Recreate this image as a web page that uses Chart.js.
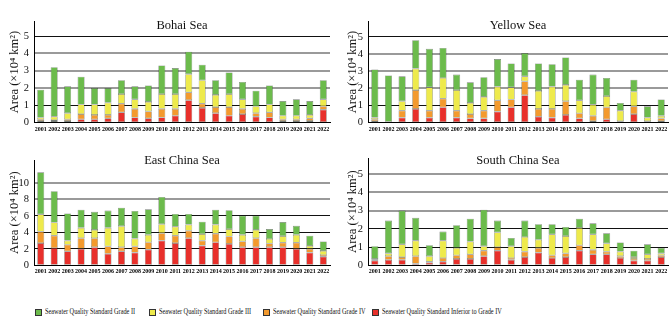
<!DOCTYPE html>
<html>
<head>
<meta charset="utf-8">
<script src="https://cdn.jsdelivr.net/npm/chart.js@4.4.1/dist/chart.umd.min.js"></script>
<style>
  body { margin: 0; background: #fff; width: 672px; height: 324px; position: relative; overflow: hidden; font-family: "Liberation Serif", "Times New Roman", serif; }
  .panel { position: absolute; }
  .leg { position: absolute; top: 308px; height: 8px; white-space: nowrap; }
  .leg i { position: absolute; left: 0; top: 1px; width: 5px; height: 5px; border: 1px solid #333; }
  .leg span { position: absolute; left: 10px; top: -2px; font-size: 8.5px; color: #111; transform: scaleX(0.74); transform-origin: left center; }
</style>
</head>
<body>

<div class="panel" style="left:0;top:10px;width:336px;height:125px"><canvas id="bohai" width="336" height="125"></canvas></div>
<div class="panel" style="left:336px;top:10px;width:336px;height:125px"><canvas id="yellow" width="336" height="125"></canvas></div>
<div class="panel" style="left:0;top:140px;width:336px;height:140px"><canvas id="east" width="336" height="140"></canvas></div>
<div class="panel" style="left:336px;top:140px;width:336px;height:140px"><canvas id="south" width="336" height="140"></canvas></div>
<div id="legend"></div>

<script>
// ===== DATA (area, x10^4 km2, per grade) =====
const years = ["2001","2002","2003","2004","2005","2006","2007","2008","2009","2010","2011",
               "2012","2013","2014","2015","2016","2017","2018","2019","2020","2021","2022"];

const seriesNames = [
    "Seawater Quality Standard Grade II",
    "Seawater Quality Standard Grade III",
    "Seawater Quality Standard Grade IV",
    "Seawater Quality Standard Inferior to Grade IV"
];
const seriesColors = ["#6cbb4c", "#eeea4c", "#f39a2e", "#e8302b"];

// Bohai Sea
const bohaiRed    = [0.1,0.1,0.1,0.2,0.2,0.25,0.6,0.3,0.25,0.3,0.4,1.3,0.85,0.55,0.4,0.5,0.35,0.3,0.1,0.1,0.1,0.75];
const bohaiOrange = [0.1,0.05,0.1,0.3,0.25,0.2,0.5,0.5,0.4,0.5,0.4,0.45,0.25,0.35,0.5,0.3,0.2,0.3,0.1,0.1,0.15,0.2];
const bohaiYellow = [0.1,0.2,0.35,0.55,0.6,0.7,0.55,0.55,0.55,0.85,0.85,1.05,1.35,0.7,0.75,0.55,0.4,0.45,0.2,0.2,0.2,0.4];
const bohaiGreen  = [1.6,2.85,1.55,1.6,0.95,0.85,0.8,0.75,0.95,1.65,1.5,1.3,0.9,0.85,1.25,1.0,0.9,1.1,0.85,0.95,0.8,1.1];

// Yellow Sea
const yellowRed    = [0.1,0,0.3,0.8,0.3,0.9,0.3,0.25,0.25,0.65,0.9,1.6,0.35,0.3,0.45,0.25,0.1,0.2,0.05,0.5,0.05,0.1];
const yellowOrange = [0.1,0.02,0.4,1.1,0.4,0.5,0.4,0.25,0.45,0.65,0.45,0.8,0.45,0.5,0.8,0.3,0.3,0.7,0.05,0.45,0.05,0.15];
const yellowYellow = [0.1,0.03,0.55,1.25,1.35,1.2,1.2,0.65,0.8,0.8,0.7,0.3,1.05,1.3,0.95,0.75,0.65,0.65,0.6,0.85,0.2,0.15];
const yellowGreen  = [2.8,2.7,1.45,1.65,2.25,1.75,0.9,1.2,1.15,1.6,1.4,1.35,1.6,1.3,1.6,1.2,1.75,1.05,0.45,0.7,0.65,0.95];

// East China Sea
const eastRed    = [2.7,2.1,1.7,2.0,2.2,1.4,1.7,1.55,1.9,3.0,2.7,3.3,2.4,2.8,2.6,2.2,2.2,2.2,2.2,2.0,1.55,1.05];
const eastOrange = [1.4,1.5,0.8,1.3,1.1,0.9,0.5,0.75,0.9,0.9,0.9,0.9,0.6,1.05,0.9,0.7,1.1,0.45,0.55,0.75,0.45,0.2];
const eastYellow = [2.1,1.6,0.5,1.25,1.0,2.25,2.55,0.95,0.9,1.1,1.1,0.75,0.8,1.1,0.9,0.8,1.0,0.55,0.8,0.95,0.35,0.5];
const eastGreen  = [5.1,3.8,3.3,2.2,2.2,2.1,2.25,3.35,3.1,3.3,1.55,1.3,1.5,1.8,2.3,2.35,1.75,1.2,1.7,1.1,1.25,1.15];

// South China Sea
const southRed    = [0.25,0.3,0.3,0.1,0.15,0.2,0.35,0.35,0.5,0.8,0.3,0.45,0.7,0.4,0.45,0.8,0.6,0.6,0.4,0.25,0.25,0.45];
const southOrange = [0.05,0.2,0.15,0.4,0.05,0.2,0.2,0.25,0.3,0.2,0.1,0.3,0.25,0.15,0.2,0.3,0.25,0.15,0.1,0.1,0.1,0.1];
const southYellow = [0.05,0.15,0.7,0.85,0.3,0.95,0.4,0.7,0.25,0.8,0.65,0.8,0.45,1.15,0.95,0.95,0.85,0.45,0.25,0.1,0.25,0.1];
const southGreen  = [0.7,1.8,1.85,1.25,0.6,0.5,1.25,1.25,2.0,0.65,0.45,0.9,0.85,0.55,0.5,0.5,0.6,0.55,0.5,0.35,0.55,0.3];

// ===== TITLE INSIDE PLOT =====
const seaTitle = {
    id: "seaTitle",
    afterDraw(chart, args, opts) {
        const c = chart.ctx, a = chart.chartArea;
        c.save();
        c.font = "12.5px 'Liberation Serif', serif";
        c.fillStyle = "#111";
        c.textAlign = "center";
        c.textBaseline = "middle";
        c.fillText(opts.text, (a.left + a.right) / 2, opts.y);
        c.restore();
    }
};

// ===== BUILD ONE PANEL =====
function makePanel(id, title, red, orange, yellow, green, cfg) {
    const datasets = [red, orange, yellow, green].map((vals, i) => ({
        label: seriesNames[3 - i],
        data: vals,
        backgroundColor: seriesColors[3 - i],
        borderColor: "rgba(30,40,30,0.6)",
        borderWidth: 0.6,
        borderSkipped: false,
        barPercentage: 0.52,
        categoryPercentage: 1
    }));

    return new Chart(document.getElementById(id), {
        type: "bar",
        data: { labels: years, datasets: datasets },
        options: {
            responsive: false,
            animation: false,
            layout: { padding: { top: cfg.padTop, right: cfg.padRight, left: 0, bottom: 0 } },
            plugins: {
                legend: { display: false },
                tooltip: { enabled: false },
                seaTitle: { text: title, y: cfg.titleY }
            },
            scales: {
                x: {
                    stacked: true,
                    grid: { display: false, drawTicks: false },
                    border: { display: true, color: "#000", width: 1 },
                    ticks: {
                        autoSkip: false, maxRotation: 0, minRotation: 0, padding: 3,
                        color: "#000",
                        font: { family: "'Liberation Serif', serif", size: 6, weight: "bold" }
                    },
                    afterFit(scale) { scale.height = cfg.xHeight; }
                },
                y: {
                    stacked: true,
                    min: 0,
                    max: cfg.yMax,
                    ticks: {
                        stepSize: cfg.step, padding: 5, color: "#111",
                        font: { family: "'Liberation Serif', serif", size: 10.5 }
                    },
                    afterBuildTicks(scale) {
                        scale.ticks = scale.ticks.filter(t => Math.abs(t.value / cfg.step - Math.round(t.value / cfg.step)) < 1e-6);
                    },
                    grid: {
                        drawTicks: false,
                        color: ctx => (ctx.tick && cfg.gray(ctx.tick.value)) ? "#9a9a9a" : "#111",
                        lineWidth: ctx => (ctx.tick && cfg.gray(ctx.tick.value)) ? 2 : 1
                    },
                    border: { display: true, color: "#000", width: 1 },
                    title: {
                        display: true,
                        text: "Area (×10⁴ km²)",
                        color: "#111",
                        padding: { top: cfg.titlePad, bottom: 0 },
                        font: { family: "'Liberation Serif', serif", size: 12.5 }
                    },
                    afterFit(scale) { scale.width = cfg.yWidth; }
                }
            }
        },
        plugins: [seaTitle]
    });
}

makePanel("bohai", "Bohai Sea", bohaiRed, bohaiOrange, bohaiYellow, bohaiGreen, {
    yMax: 5.85, step: 1, padTop: 7, padRight: 6, xHeight: 12.3, yWidth: 34, titlePad: 7, titleY: 16,
    gray: v => v >= 2 && v <= 4
});
makePanel("yellow", "Yellow Sea", yellowRed, yellowOrange, yellowYellow, yellowGreen, {
    yMax: 5.9, step: 1, padTop: 6, padRight: 4, xHeight: 12.3, yWidth: 32, titlePad: 9, titleY: 16,
    gray: v => v >= 2 && v <= 4
});
makePanel("east", "East China Sea", eastRed, eastOrange, eastYellow, eastGreen, {
    yMax: 12.8, step: 2, padTop: 20, padRight: 6, xHeight: 14.7, yWidth: 34, titlePad: 7, titleY: 20.5,
    gray: v => v >= 8
});
makePanel("south", "South China Sea", southRed, southOrange, southYellow, southGreen, {
    yMax: 5.88, step: 1, padTop: 18, padRight: 4, xHeight: 14.7, yWidth: 32, titlePad: 9, titleY: 20.5,
    gray: v => v >= 3
});

// ===== LEGEND =====
const legendLeft = [35, 149, 263, 372];
const legendBox = document.getElementById("legend");
seriesNames.forEach((name, i) => {
    const item = document.createElement("div");
    item.className = "leg";
    item.style.left = legendLeft[i] + "px";
    item.innerHTML = '<i style="background:' + seriesColors[i] + '"></i><span>' + name + '</span>';
    legendBox.appendChild(item);
});
</script>
</body>
</html>
